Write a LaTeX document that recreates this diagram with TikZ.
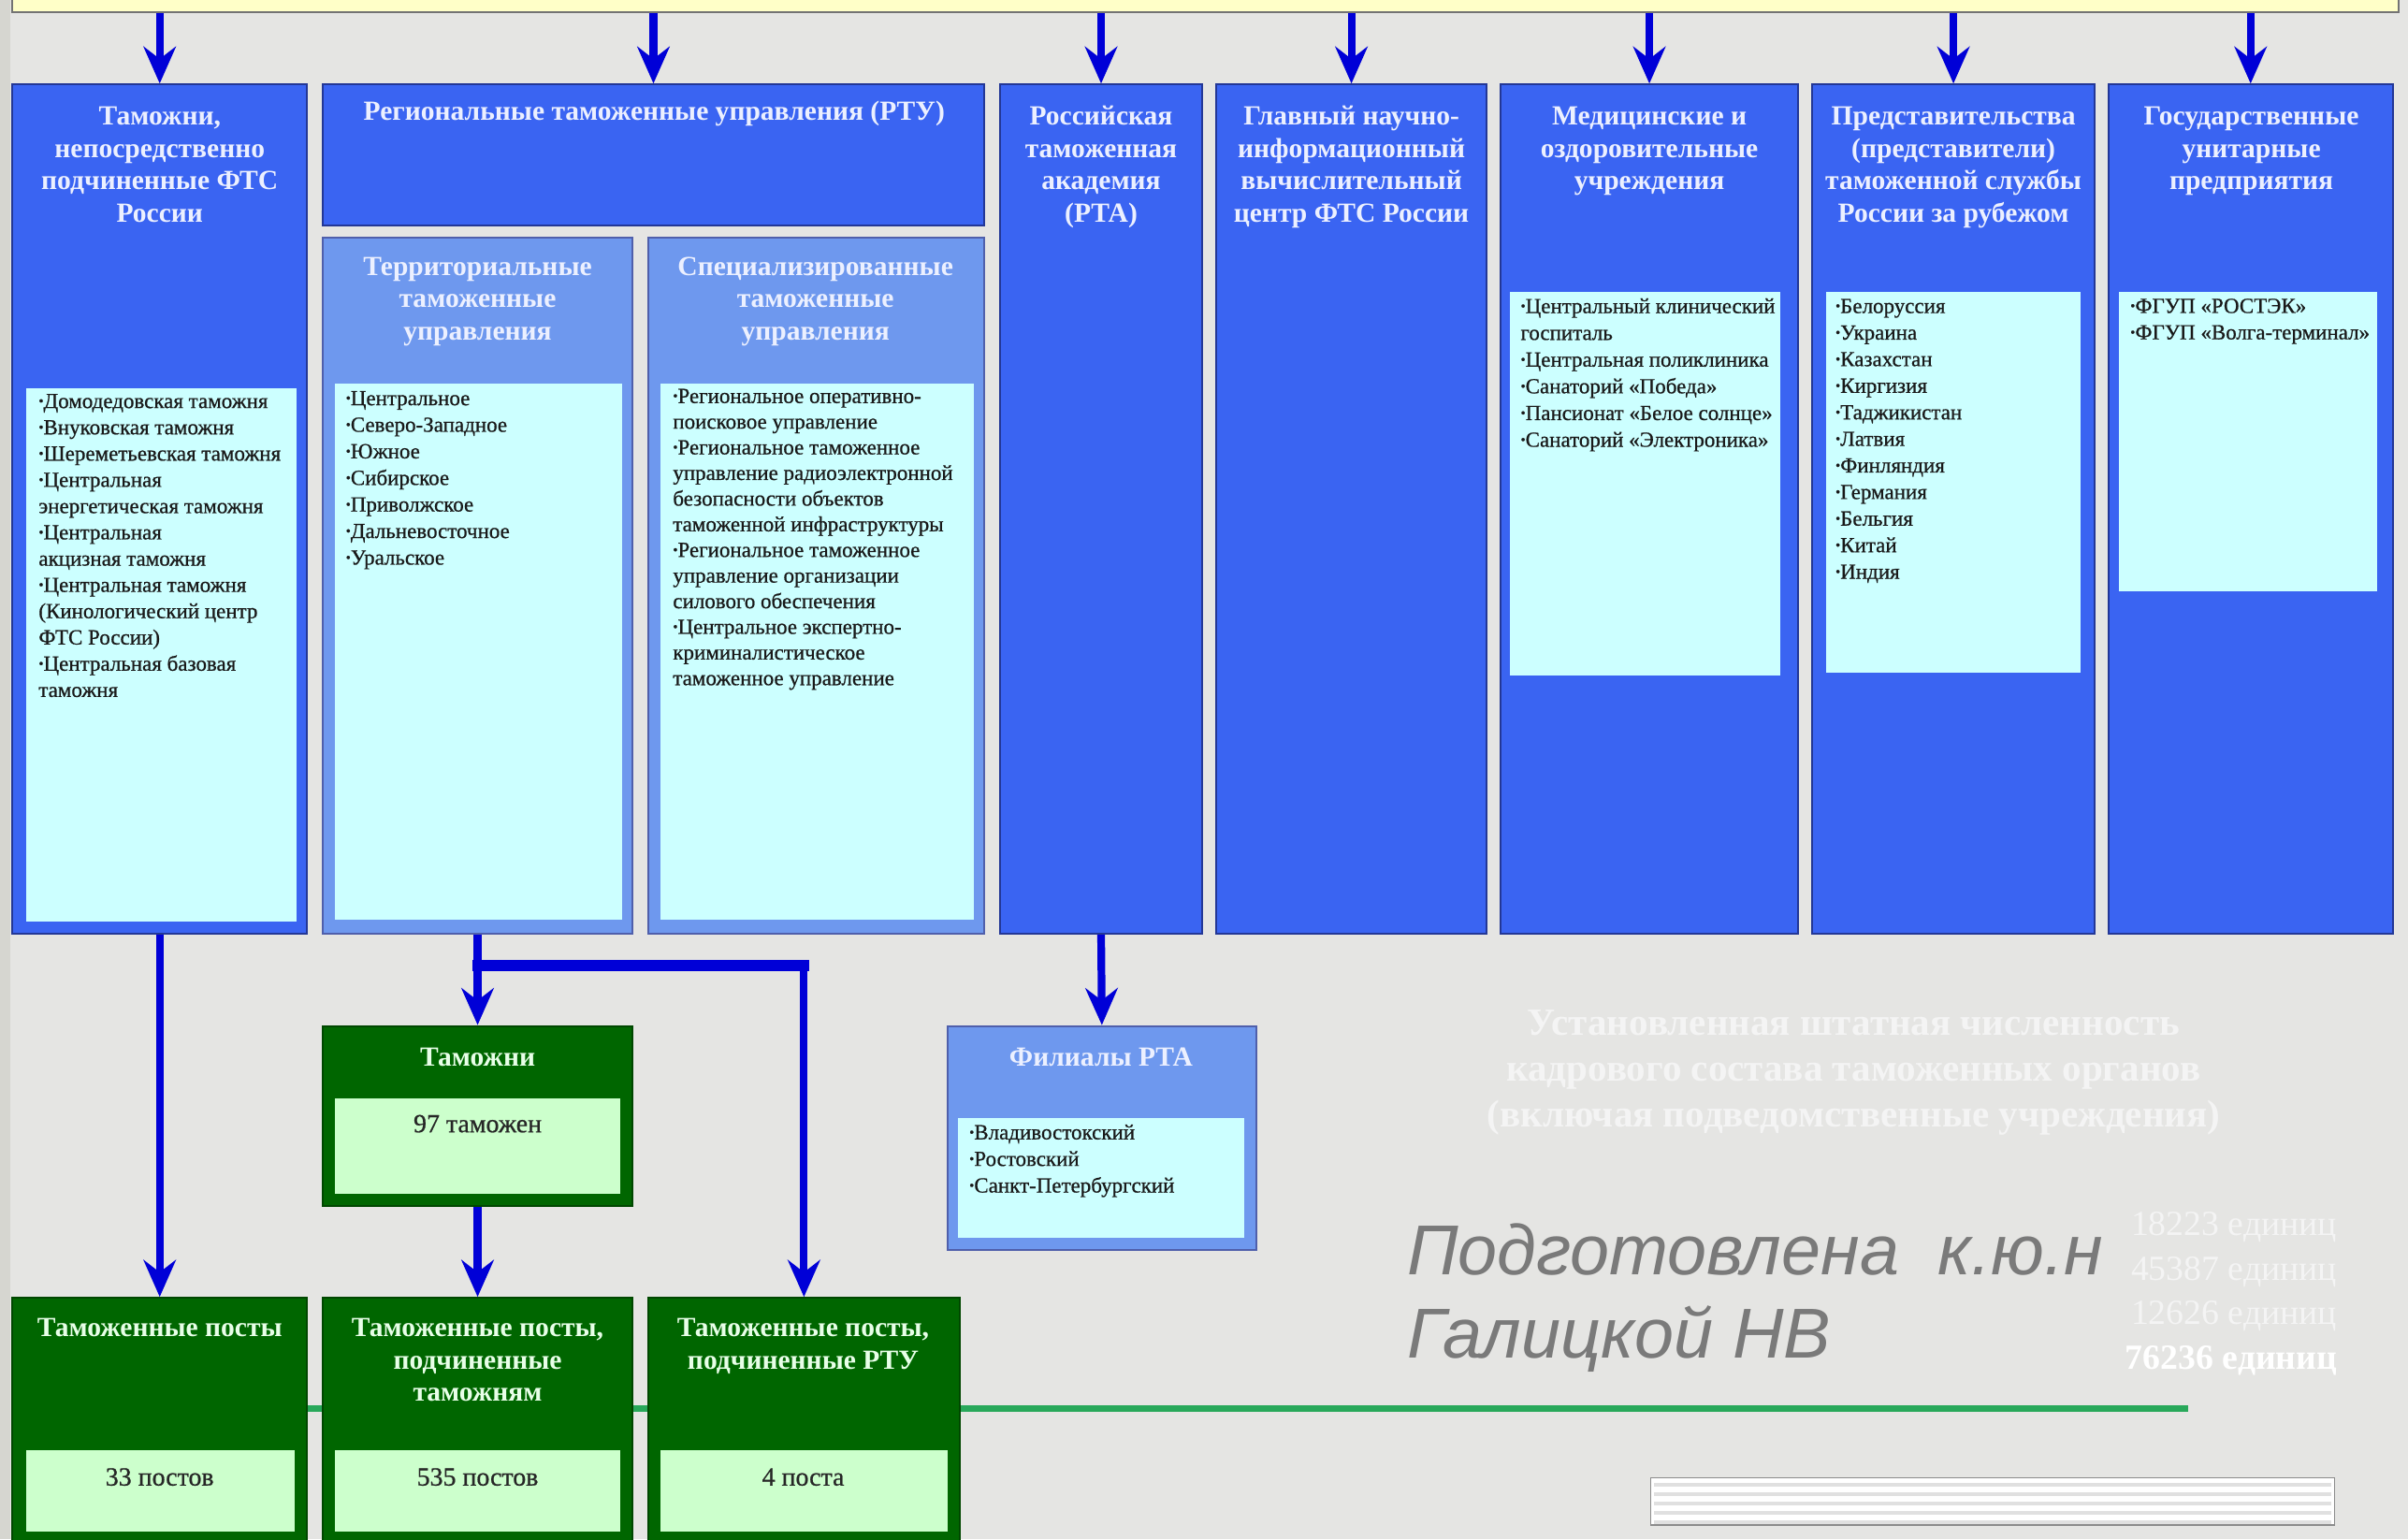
\documentclass[tikz,border=0pt]{standalone}
\usepackage{fontspec}
\setmainfont{Liberation Serif}
\newfontfamily\sansit{Liberation Sans}
\newfontfamily\lstfont[FakeBold=0.7]{Liberation Serif}
\usetikzlibrary{arrows.meta,fit,calc}

\definecolor{bg}{RGB}{229,229,227}
\definecolor{lstrip}{RGB}{214,214,208}
\definecolor{mblue}{RGB}{58,100,242}
\definecolor{lblue}{RGB}{110,152,238}
\definecolor{bdr}{RGB}{35,55,150}
\definecolor{cyanf}{RGB}{204,255,255}
\definecolor{dgreen}{RGB}{0,102,0}
\definecolor{lgreen}{RGB}{204,255,204}
\definecolor{arrc}{RGB}{0,0,215}
\definecolor{ylw}{RGB}{255,255,200}
\definecolor{glinec}{RGB}{40,168,90}
\definecolor{ttlc}{RGB}{236,240,255}
\definecolor{gttlc}{RGB}{232,255,232}
\definecolor{gtxt}{RGB}{122,122,122}
\definecolor{fade}{RGB}{244,244,244}

\newcommand\bu{\raisebox{0.12em}{\fontsize{9}{9}\selectfont •}}

\begin{document}
\begin{tikzpicture}[x=1pt,y=-1pt,
  box/.style={inner sep=0pt, line width=1.2pt},
  bluebox/.style={box, draw=bdr, fill=mblue},
  lbox/.style={box, draw=bdr!80, fill=lblue},
  gbox/.style={box, draw=dgreen!70!black, fill=dgreen},
  cbox/.style={box, draw=none, fill=cyanf},
  lgbox/.style={box, draw=none, fill=lgreen},
  ttl/.style={anchor=north, align=center, inner sep=0pt, text=ttlc, font=\fontsize{18}{21}\selectfont\bfseries},
  gttl/.style={ttl, text=gttlc},
  lst/.style={anchor=north west, align=left, inner sep=0pt, text=black!90, font=\lstfont\fontsize{14}{17.2}\selectfont},
  numt/.style={anchor=north, align=center, inner sep=0pt, text=black!85, font=\lstfont\fontsize{17}{20}\selectfont},
  conn/.style={draw=arrc, line width=5pt, -{Stealth[length=24pt,width=21pt,inset=8pt]}},
]
% background
\fill[bg] (0,0) rectangle (1568,1002.1);
\useasboundingbox (0,0) rectangle (1568,1002.1);
\fill[lstrip] (0,0) rectangle (7,1002.1);

% top band
\node[box, fill=ylw, draw=black!55, fit={(8,-4) (1562,8)}] (top) {};

% green line
\coordinate (gl1) at (200,917);
\coordinate (gl2) at (1425,917);
\draw[glinec, line width=4.5pt] (gl1) -- (gl2);

% top row boxes
\node[bluebox, fit={(8,55) (200,608)}] (b1) {};
\node[cbox, fit={(17,253) (193,600)}] (b1c) {};
\node[ttl] (b1t) at (104,66.5) {\strut Таможни,\\непосредственно\\подчиненные ФТС\\России};
\node[lst, font=\lstfont\fontsize{14}{17.1}\selectfont] (b1l) at (25,253.5) {\strut\bu Домодедовская таможня\\\bu Внуковская таможня\\\bu Шереметьевская таможня\\\bu Центральная\\энергетическая таможня\\\bu Центральная\\акцизная таможня\\\bu Центральная таможня\\(Кинологический центр\\ФТС России)\\\bu Центральная базовая\\таможня};

\node[bluebox, fit={(210,55) (641,147)}] (rtu) {};
\node[ttl] (rtut) at (426,63.5) {\strut Региональные таможенные управления (РТУ)};

\node[lbox, fit={(210,155) (412,608)}] (terr) {};
\node[cbox, fit={(218,250) (405,599)}] (terrc) {};
\node[ttl] (terrt) at (311,164.5) {\strut Территориальные\\таможенные\\управления};
\node[lst, font=\lstfont\fontsize{14}{17.3}\selectfont] (terrl) at (225,251.5) {\strut\bu Центральное\\\bu Северо-Западное\\\bu Южное\\\bu Сибирское\\\bu Приволжское\\\bu Дальневосточное\\\bu Уральское};

\node[lbox, fit={(422,155) (641,608)}] (spec) {};
\node[cbox, fit={(430,250) (634,599)}] (specc) {};
\node[ttl] (spect) at (531,164.5) {\strut Специализированные\\таможенные\\управления};
\node[lst, font=\lstfont\fontsize{14}{16.7}\selectfont] (specl) at (438,250.5) {\strut\bu Региональное оперативно-\\поисковое управление\\\bu Региональное таможенное\\управление радиоэлектронной\\безопасности объектов\\таможенной инфраструктуры\\\bu Региональное таможенное\\управление организации\\силового обеспечения\\\bu Центральное экспертно-\\криминалистическое\\таможенное управление};

\node[bluebox, fit={(651,55) (783,608)}] (rta) {};
\node[ttl] (rtat) at (717,66.5) {\strut Российская\\таможенная\\академия\\(РТА)};

\node[bluebox, fit={(792,55) (968,608)}] (gniv) {};
\node[ttl] (gnivt) at (880,66.5) {\strut Главный научно-\\информационный\\вычислительный\\центр ФТС России};

\node[bluebox, fit={(977,55) (1171,608)}] (med) {};
\node[cbox, fit={(983,190) (1159,440)}] (medc) {};
\node[ttl] (medt) at (1074,66.5) {\strut Медицинские и\\оздоровительные\\учреждения};
\node[lst, font=\lstfont\fontsize{14}{17.4}\selectfont] (medl) at (990,191.5) {\strut\bu Центральный клинический\\госпиталь\\\bu Центральная поликлиника\\\bu Санаторий «Победа»\\\bu Пансионат «Белое солнце»\\\bu Санаторий «Электроника»};

\node[bluebox, fit={(1180,55) (1364,608)}] (pred) {};
\node[cbox, fit={(1189,190) (1355,438)}] (predc) {};
\node[ttl] (predt) at (1272,66.5) {\strut Представительства\\(представители)\\таможенной службы\\России за рубежом};
\node[lst, font=\lstfont\fontsize{14}{17.3}\selectfont] (predl) at (1195,191.5) {\strut\bu Белоруссия\\\bu Украина\\\bu Казахстан\\\bu Киргизия\\\bu Таджикистан\\\bu Латвия\\\bu Финляндия\\\bu Германия\\\bu Бельгия\\\bu Китай\\\bu Индия};

\node[bluebox, fit={(1373,55) (1558,608)}] (gos) {};
\node[cbox, fit={(1380,190) (1548,385)}] (gosc) {};
\node[ttl] (gost) at (1466,66.5) {\strut Государственные\\унитарные\\предприятия};
\node[lst] (gosl) at (1387,191.5) {\strut\bu ФГУП «РОСТЭК»\\\bu ФГУП «Волга-терминал»};

% middle row
\node[gbox, fit={(210,668) (412,785)}] (gtam) {};
\node[lgbox, fit={(218,715) (404,777)}] (gtamc) {};
\node[gttl] (gtamt) at (311,679.5) {\strut Таможни};
\node[numt] (gtamn) at (311,723) {\strut 97 таможен};

\node[lbox, fit={(617,668) (818,814)}] (fil) {};
\node[cbox, fit={(624,728) (810,806)}] (filc) {};
\node[ttl] (filt) at (717,679.5) {\strut Филиалы РТА};
\node[lst, font=\lstfont\fontsize{14}{17.3}\selectfont] (fill) at (631,729.5) {\strut\bu Владивостокский\\\bu Ростовский\\\bu Санкт-Петербургский};

% bottom row
\node[gbox, fit={(8,845) (200,1010)}] (p1) {};
\node[lgbox, fit={(17,944) (192,997)}] (p1c) {};
\node[gttl] (p1t) at (104,855.5) {\strut Таможенные посты};
\node[numt] (p1n) at (104,953) {\strut 33 постов};

\node[gbox, fit={(210,845) (412,1010)}] (p2) {};
\node[lgbox, fit={(218,944) (404,997)}] (p2c) {};
\node[gttl] (p2t) at (311,855.5) {\strut Таможенные посты,\\подчиненные\\таможням};
\node[numt] (p2n) at (311,953) {\strut 535 постов};

\node[gbox, fit={(422,845) (625,1010)}] (p3) {};
\node[lgbox, fit={(430,944) (617,997)}] (p3c) {};
\node[gttl] (p3t) at (523,855.5) {\strut Таможенные посты,\\подчиненные РТУ};
\node[numt] (p3n) at (523,953) {\strut 4 поста};

% faded texts
\node[anchor=north, align=center, inner sep=0pt, text=fade, font=\fontsize{25}{30}\selectfont\bfseries] (shtat) at (1207,652.8) {\strut Установленная штатная численность\\кадрового состава таможенных органов\\(включая подведомственные учреждения)};
\node[anchor=north east, align=right, inner sep=0pt, text=fade, font=\fontsize{23}{29}\selectfont] (nums) at (1522,784) {\strut 18223 единиц\\45387 единиц\\12626 единиц\\\textcolor{white}{\bfseries 76236 единиц}};

% author
\node[anchor=north west, align=left, inner sep=0pt, text=gtxt, font=\sansit\itshape\fontsize{46}{54}\selectfont] (auth) at (916,792) {\strut Подготовлена~ к.ю.н\\Галицкой НВ};

% striped box
\node[box, draw=black!45, line width=0.8pt, fill=white, fit={(1075,962) (1520,993)}] (strip) {};
\foreach \yy in {967,973,979,985,991} \draw[black!12, line width=2.5pt] (1077,\yy) -- (1518,\yy);

% connectors
\foreach \b in {b1,rtu,rta,gniv,med,pred,gos}
  \draw[conn] (\b.north |- top.south) -- (\b.north);
\draw[conn] (b1.south) -- (p1.north);
\draw[conn] (terr.south) -- (gtam.north);
\draw[conn] (gtam.south) -- (p2.north);
\draw[conn] (rta.south) -- (fil.north);
\coordinate (br) at ($(terr.south)+(0,20)$);
\draw[arrc, line width=7pt, line cap=rect] (br) -- (br -| p3.north);
\draw[conn] ($(br -| p3.north)+(0,-3)$) -- (p3.north);
\end{tikzpicture}
\end{document}
